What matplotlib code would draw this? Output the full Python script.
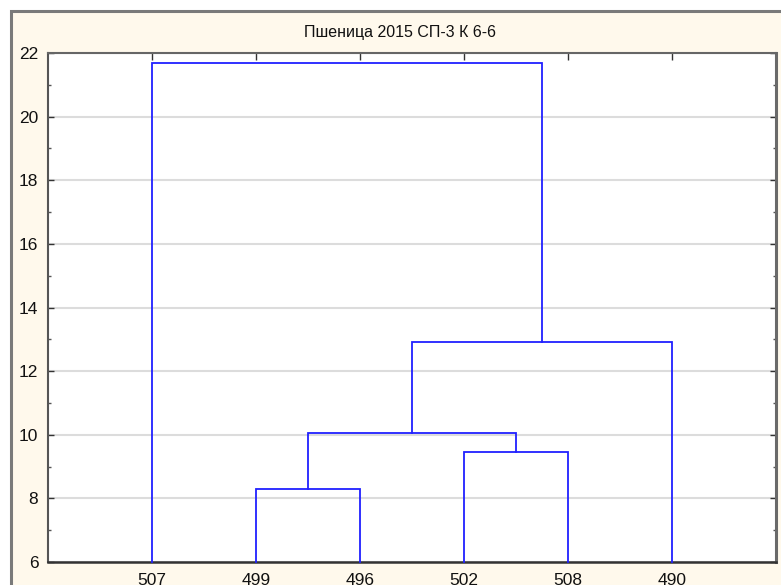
import matplotlib
matplotlib.use("Agg")
import matplotlib.pyplot as plt
from matplotlib.patches import Rectangle
from matplotlib.ticker import MultipleLocator

# ---- data ----
leaf_labels = ["507", "499", "496", "502", "508", "490"]
# merges: (left child, right child); indices < 6 are leaves, >= 6 are earlier merges
merge_pairs = [(1, 2), (3, 4), (6, 7), (8, 5), (0, 9)]
merge_heights = [8.3, 9.45, 10.05, 12.9, 21.7]
title = "Пшеница 2015 СП-3 К 6-6"

plt.rcParams['font.family'] = ['Liberation Sans', 'DejaVu Sans']

W, H = 781, 585
fig = plt.figure(figsize=(W / 100, H / 100), dpi=100, facecolor="white")

# frame background
fig.patches.append(Rectangle((11 / W, -0.1), 1.2, (H - 11) / H + 0.1,
                             transform=fig.transFigure, facecolor="#FFF9EC",
                             edgecolor="#7a7a7a", linewidth=2.2, zorder=-10))

ax = fig.add_axes([48 / W, (H - 562) / H, (776 - 48) / W, (562 - 53) / H])
ax.set_zorder(2)
ax.set_facecolor("white")

n = len(leaf_labels)
xpos = {i: i + 1 for i in range(n)}
ypos = {i: 6.0 for i in range(n)}
color = "#2020ff"
for k, ((a, b), h) in enumerate(zip(merge_pairs, merge_heights)):
    xa, xb = xpos[a], xpos[b]
    ya, yb = ypos[a], ypos[b]
    ax.plot([xa, xa, xb, xb], [ya, h, h, yb], color=color, lw=1.3,
            solid_joinstyle="miter", zorder=3, clip_on=False)
    node = n + k
    xpos[node] = (xa + xb) / 2
    ypos[node] = h

ax.set_xlim(0, n + 1)
ax.set_ylim(6, 22)
ax.set_xticks(range(1, n + 1))
ax.set_xticklabels(leaf_labels)
ax.yaxis.set_major_locator(MultipleLocator(2))
ax.yaxis.set_minor_locator(MultipleLocator(1))
ax.grid(axis="y", which="major", color="#dcdcdc", lw=1.5, zorder=1)
ax.set_axisbelow(True)

ax.tick_params(axis="y", which="major", direction="in", length=4, width=1,
               labelsize=12.5, pad=7, colors="#333333", labelcolor="#111111",
               right=True)
ax.tick_params(axis="y", which="minor", direction="in", length=2, width=1,
               colors="#555555", right=True)
ax.tick_params(axis="x", which="major", direction="in", length=5, width=1,
               labelsize=12.5, pad=8, colors="#333333", labelcolor="#111111",
               top=True, bottom=False)

ax.spines["left"].set_color("#555555")
ax.spines["left"].set_linewidth(1.5)
ax.spines["bottom"].set_color("#333333")
ax.spines["bottom"].set_linewidth(1.8)
ax.spines["top"].set_color("#666666")
ax.spines["top"].set_linewidth(1.5)
ax.spines["right"].set_color("#6a6a6a")
ax.spines["right"].set_linewidth(2.2)

fig.text(400 / W, 1 - 32 / H, title, ha="center", va="center",
         fontsize=11.5, color="#111111")

fig.savefig("out.png", dpi=100, facecolor=fig.get_facecolor())
